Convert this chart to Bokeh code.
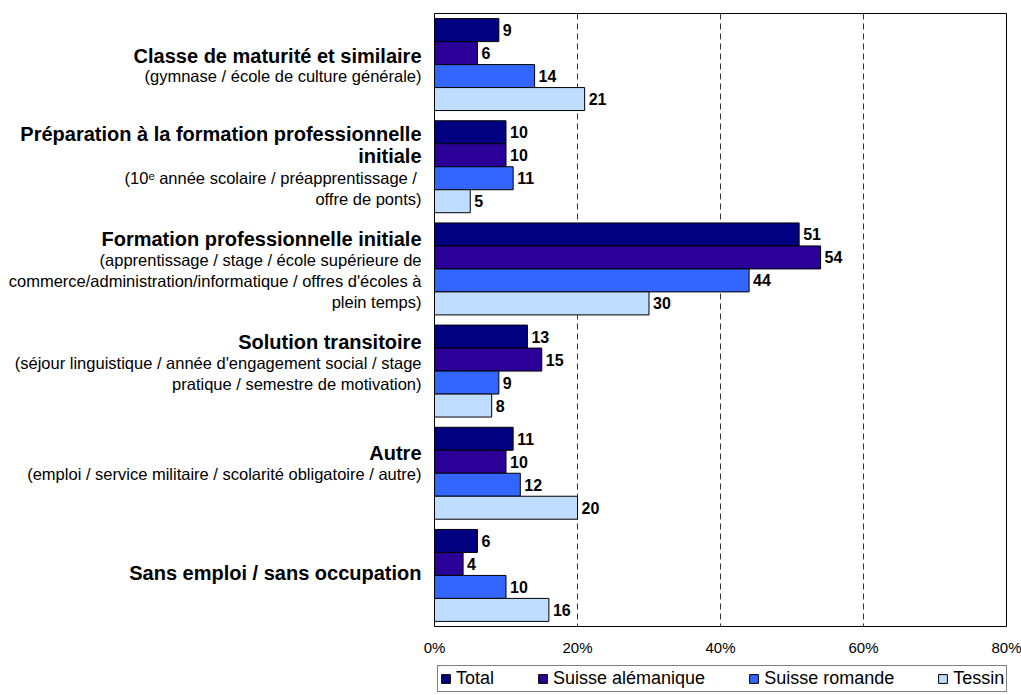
from bokeh.plotting import figure
from bokeh.models import Range1d, Legend, LegendItem, ColumnDataSource
from bokeh.embed import file_html
from bokeh.resources import INLINE
from bokeh.core.properties import value
import numpy as np

# ---------------- data ----------------
cat_titles = [
    ["Classe de maturité et similaire"],
    ["Préparation à la formation professionnelle", "initiale"],
    ["Formation professionnelle initiale"],
    ["Solution transitoire"],
    ["Autre"],
    ["Sans emploi / sans occupation"],
]
cat_details = [
    ["(gymnase / école de culture générale)"],
    ["(10ᵉ année scolaire  / préapprentissage /", "offre de ponts)"],
    ["(apprentissage / stage / école supérieure de",
     "commerce/administration/informatique / offres d'écoles à",
     "plein temps)"],
    ["(séjour linguistique / année d'engagement social / stage",
     "pratique / semestre de motivation)"],
    ["(emploi / service militaire / scolarité obligatoire / autre)"],
    [],
]
series_names = ["Total", "Suisse alémanique", "Suisse romande", "Tessin"]
total = [9, 10, 51, 13, 11, 6]
alemanique = [6, 10, 54, 15, 10, 4]
romande = [14, 11, 44, 9, 12, 10]
tessin = [21, 5, 30, 8, 20, 16]
series_values = [total, alemanique, romande, tessin]
x_ticks = [0, 20, 40, 60, 80]
x_tick_labels = ["0%", "20%", "40%", "60%", "80%"]

# ---------------- layout / style ----------------
colors = ["#000080", "#2B0099", "#3366FF", "#BFDEFF"]
FONT = "Liberation Sans"
n_cat = len(cat_titles)
bar_h = 0.225

W, H = 1021, 694
box_left, box_right = 434, 1006      # px inside canvas
box_top, box_bottom = 13, 626
px_x = (box_right - box_left) / (x_ticks[-1] - x_ticks[0])
px_y = (box_bottom - box_top) / n_cat
x0 = x_ticks[0] - box_left / px_x
x1 = x_ticks[-1] + (W - box_right) / px_x
y_top = -0.5 - box_top / px_y
y_bot = n_cat - 0.5 + (H - box_bottom) / px_y

# vertical centre offsets (px from category centre) of the label lines
line_offsets = [[-9, 11], [-33, -11, 11, 32], [-30, -9, 12, 33],
                [-29.5, -8.5, 12.5], [-20.5, 0.5], [-2]]

p = figure(width=W, height=H, output_backend="svg", toolbar_location=None,
           x_range=Range1d(x0, x1), y_range=Range1d(y_bot, y_top),
           min_border=0)
p.axis.visible = False
p.grid.visible = False
p.outline_line_color = None
p.background_fill_color = "white"
p.border_fill_color = "white"

# dashed grid lines
gx = x_ticks[1:-1]
p.segment(x0=gx, x1=gx, y0=[-0.5] * len(gx), y1=[n_cat - 0.5] * len(gx),
          line_color="#333333", line_dash="6 4", line_width=1)

idx = np.arange(n_cat)
items = []
for k, (name, vals) in enumerate(zip(series_names, series_values)):
    y = idx + (k - 1.5) * bar_h
    src = ColumnDataSource(dict(y=y, v=vals, t=[str(v) for v in vals]))
    r = p.hbar(y="y", right="v", left=0, height=bar_h, source=src,
               fill_color=colors[k], line_color="black", line_width=1)
    p.text(x="v", y="y", text="t", source=src, x_offset=4,
           text_baseline="middle", text_align="left",
           text_font=value(FONT), text_font_size="16px",
           text_font_style="bold", text_color="black")
    items.append(LegendItem(label=name, renderers=[r]))

# plot-area box
p.quad(left=[x_ticks[0]], right=[x_ticks[-1]], top=[-0.5], bottom=[n_cat - 0.5],
       fill_color=None, line_color="black", line_width=1)

# x tick labels
p.text(x=x_ticks, y=[n_cat - 0.5] * len(x_ticks), text=x_tick_labels,
       y_offset=21, text_align="center", text_baseline="middle",
       text_font=value(FONT), text_font_size="15px", text_color="black")

# category labels
bx, by, bt, nx, ny, nt = [], [], [], [], [], []
for i in range(n_cat):
    lines = [(t, True) for t in cat_titles[i]] + [(t, False) for t in cat_details[i]]
    for (txt, bold), off in zip(lines, line_offsets[i]):
        yy = i + off / px_y
        if bold:
            bx.append(0); by.append(yy); bt.append(txt)
        else:
            nx.append(0); ny.append(yy); nt.append(txt)
p.text(x=bx, y=by, text=bt, x_offset=-13, text_align="right",
       text_baseline="middle", text_font=value(FONT),
       text_font_size="20px", text_font_style="bold", text_color="black")
p.text(x=nx, y=ny, text=nt, x_offset=-13, text_align="right",
       text_baseline="middle", text_font=value(FONT),
       text_font_size="16.5px", text_color="black")

legend = Legend(items=items, orientation="horizontal", location=(437, 2),
                label_text_font=FONT, label_text_font_size="18px",
                label_text_color="black", glyph_width=11, glyph_height=11,
                label_standoff=5, spacing=43, padding=2, margin=0,
                border_line_color="black", border_line_width=1,
                background_fill_alpha=1, label_height=18)
p.add_layout(legend, "center")

open("out.html", "w").write(file_html(p, INLINE))
